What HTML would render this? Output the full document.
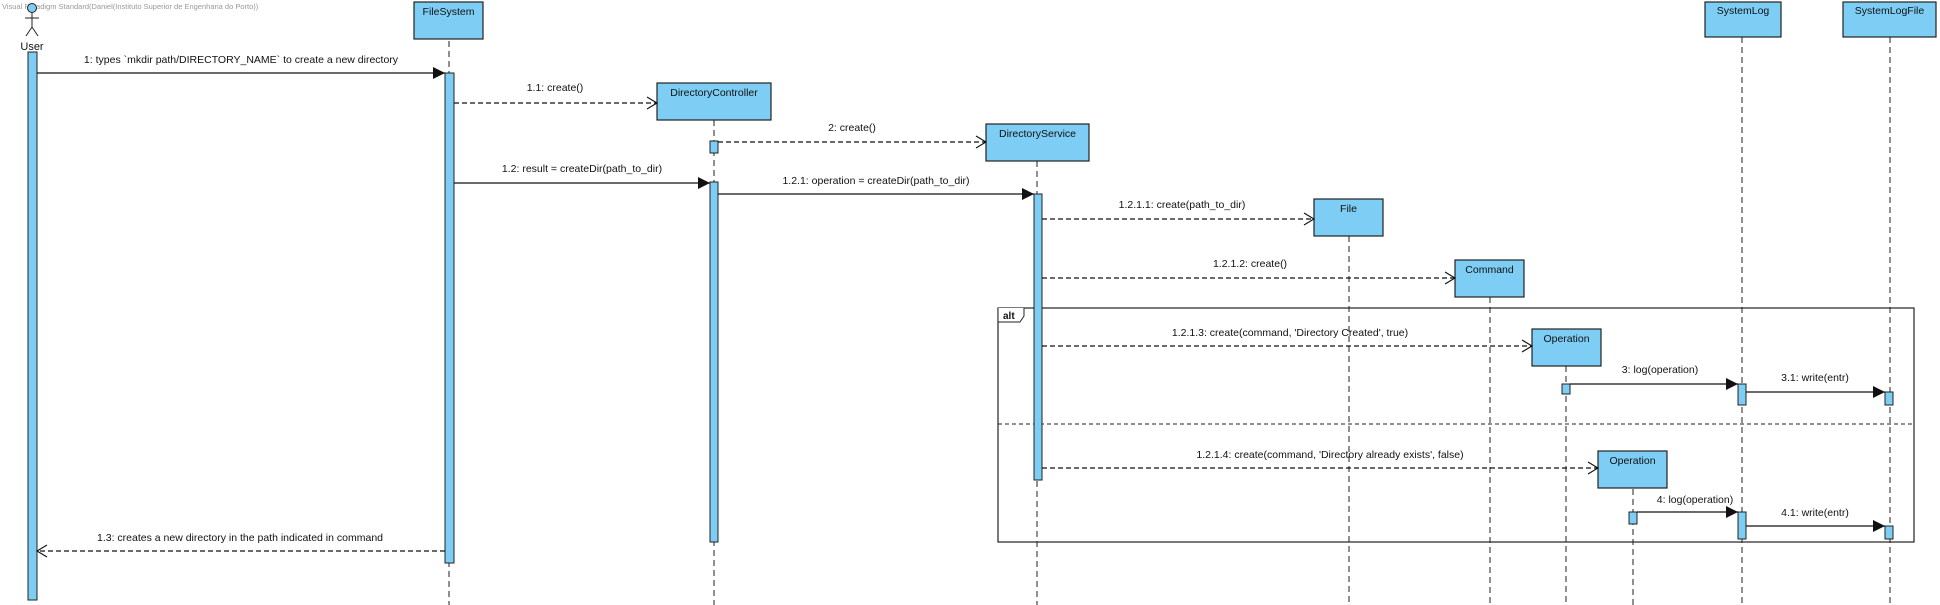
<!DOCTYPE html>
<html><head><meta charset="utf-8"><style>
html,body{margin:0;padding:0;background:#fff;width:1940px;height:605px;overflow:hidden}
svg{display:block}
text{font-family:"Liberation Sans",Arial,sans-serif;font-size:10.5px;fill:#111}
.box{fill:#7dcdf4;stroke:#222;stroke-width:1.2}
.act{fill:#7dcdf4;stroke:#222;stroke-width:1}
.ll{stroke:#222;stroke-width:1;stroke-dasharray:6,4}
.msg{stroke:#111;stroke-width:1.2;fill:none}
.ret{stroke:#111;stroke-width:1.2;fill:none;stroke-dasharray:5,3}
.oa{stroke:#111;stroke-width:1.1;fill:none}
</style></head><body>
<svg width="1940" height="605" viewBox="0 0 1940 605" xmlns="http://www.w3.org/2000/svg">
<text x="2" y="9" style="font-size:7.5px;fill:#999">Visual Paradigm Standard(Daniel(Instituto Superior de Engenharia do Porto))</text>
<!-- actor -->
<circle cx="32" cy="8" r="4.5" fill="#7dcdf4" stroke="#222"/>
<line x1="32" y1="12" x2="32" y2="27" stroke="#222"/>
<line x1="25" y1="18" x2="39" y2="18" stroke="#222"/>
<line x1="32" y1="27" x2="26" y2="36" stroke="#222"/>
<line x1="32" y1="27" x2="38" y2="36" stroke="#222"/>
<text x="32" y="50" text-anchor="middle" style="font-size:11px">User</text>

<!-- lifelines -->
<line class="ll" x1="449" y1="41" x2="449" y2="605"/>
<line class="ll" x1="714" y1="120" x2="714" y2="605"/>
<line class="ll" x1="1037" y1="161" x2="1037" y2="605"/>
<line class="ll" x1="1349" y1="236" x2="1349" y2="605"/>
<line class="ll" x1="1490" y1="297" x2="1490" y2="605"/>
<line class="ll" x1="1566" y1="366" x2="1566" y2="605"/>
<line class="ll" x1="1633" y1="489" x2="1633" y2="605"/>
<line class="ll" x1="1742" y1="37" x2="1742" y2="605"/>
<line class="ll" x1="1890" y1="37" x2="1890" y2="605"/>

<!-- boxes -->
<rect class="box" x="414" y="2" width="69" height="37"/><text x="448.5" y="15" text-anchor="middle">FileSystem</text>
<rect class="box" x="657" y="83" width="114" height="37"/><text x="714" y="96" text-anchor="middle">DirectoryController</text>
<rect class="box" x="986" y="124" width="103" height="37"/><text x="1037.5" y="137" text-anchor="middle">DirectoryService</text>
<rect class="box" x="1314" y="199" width="69" height="37"/><text x="1348.5" y="212" text-anchor="middle">File</text>
<rect class="box" x="1455" y="260" width="69" height="37"/><text x="1489.5" y="273" text-anchor="middle">Command</text>
<rect class="box" x="1532" y="329" width="69" height="37"/><text x="1566.5" y="342" text-anchor="middle">Operation</text>
<rect class="box" x="1598" y="451" width="69" height="37"/><text x="1632.5" y="464" text-anchor="middle">Operation</text>
<rect class="box" x="1705" y="2" width="76" height="35"/><text x="1743" y="14" text-anchor="middle">SystemLog</text>
<rect class="box" x="1843" y="2" width="93" height="35"/><text x="1889.5" y="14" text-anchor="middle">SystemLogFile</text>

<!-- alt frame -->
<rect x="998" y="308" width="916" height="234" fill="none" stroke="#222" stroke-width="1.2"/>
<path d="M998 308 V322 H1020 L1024 316 V308" fill="#fff" stroke="#222" stroke-width="1"/>
<text x="1003" y="319" style="font-size:10px;font-weight:bold">alt</text>
<line x1="998" y1="424" x2="1914" y2="424" stroke="#222" stroke-width="1" stroke-dasharray="4,3"/>

<!-- activations -->
<rect class="act" x="28" y="52" width="9" height="548"/>
<rect class="act" x="445" y="73" width="9" height="490"/>
<rect class="act" x="710" y="141" width="8" height="12"/>
<rect class="act" x="710" y="182" width="8" height="360"/>
<rect class="act" x="1034" y="194" width="8" height="286"/>
<rect class="act" x="1562" y="384" width="8" height="10"/>
<rect class="act" x="1738" y="384" width="8" height="21"/>
<rect class="act" x="1885" y="392" width="8" height="13"/>
<rect class="act" x="1629" y="512" width="8" height="12"/>
<rect class="act" x="1738" y="512" width="8" height="27"/>
<rect class="act" x="1885" y="526" width="8" height="13"/>

<!-- messages -->
<line class="msg" x1="37" y1="73" x2="445" y2="73"/><path d="M433 67 L445 73 L433 79 Z" fill="#111"/>
<text x="241" y="63" text-anchor="middle">1: types `mkdir path/DIRECTORY_NAME` to create a new directory</text>

<line class="ret" x1="454" y1="103" x2="657" y2="103"/><path class="oa" d="M647 97 L657 103 L647 109"/>
<text x="555" y="91" text-anchor="middle">1.1: create()</text>

<line class="ret" x1="718" y1="142" x2="986" y2="142"/><path class="oa" d="M976 136 L986 142 L976 148"/>
<text x="852" y="131" text-anchor="middle">2: create()</text>

<line class="msg" x1="454" y1="183" x2="710" y2="183"/><path d="M698 177 L710 183 L698 189 Z" fill="#111"/>
<text x="582" y="172" text-anchor="middle">1.2: result = createDir(path_to_dir)</text>

<line class="msg" x1="718" y1="194" x2="1034" y2="194"/><path d="M1022 188 L1034 194 L1022 200 Z" fill="#111"/>
<text x="876" y="184" text-anchor="middle">1.2.1: operation = createDir(path_to_dir)</text>

<line class="ret" x1="1042" y1="219" x2="1314" y2="219"/><path class="oa" d="M1304 213 L1314 219 L1304 225"/>
<text x="1182" y="208" text-anchor="middle">1.2.1.1: create(path_to_dir)</text>

<line class="ret" x1="1042" y1="278" x2="1455" y2="278"/><path class="oa" d="M1445 272 L1455 278 L1445 284"/>
<text x="1250" y="267" text-anchor="middle">1.2.1.2: create()</text>

<line class="ret" x1="1042" y1="346" x2="1532" y2="346"/><path class="oa" d="M1522 340 L1532 346 L1522 352"/>
<text x="1290" y="336" text-anchor="middle">1.2.1.3: create(command, 'Directory Created', true)</text>

<line class="msg" x1="1570" y1="384" x2="1738" y2="384"/><path d="M1726 378 L1738 384 L1726 390 Z" fill="#111"/>
<text x="1660" y="373" text-anchor="middle">3: log(operation)</text>

<line class="msg" x1="1746" y1="392" x2="1885" y2="392"/><path d="M1873 386 L1885 392 L1873 398 Z" fill="#111"/>
<text x="1815" y="381" text-anchor="middle">3.1: write(entr)</text>

<line class="ret" x1="1042" y1="468" x2="1598" y2="468"/><path class="oa" d="M1588 462 L1598 468 L1588 474"/>
<text x="1330" y="458" text-anchor="middle">1.2.1.4: create(command, 'Directory already exists', false)</text>

<line class="msg" x1="1637" y1="512" x2="1738" y2="512"/><path d="M1726 506 L1738 512 L1726 518 Z" fill="#111"/>
<text x="1695" y="503" text-anchor="middle">4: log(operation)</text>

<line class="msg" x1="1746" y1="526" x2="1885" y2="526"/><path d="M1873 520 L1885 526 L1873 532 Z" fill="#111"/>
<text x="1815" y="516" text-anchor="middle">4.1: write(entr)</text>

<line class="ret" x1="445" y1="551" x2="37" y2="551"/><path class="oa" d="M47 545 L37 551 L47 557"/>
<text x="240" y="541" text-anchor="middle">1.3: creates a new directory in the path indicated in command</text>
</svg>
</body></html>
